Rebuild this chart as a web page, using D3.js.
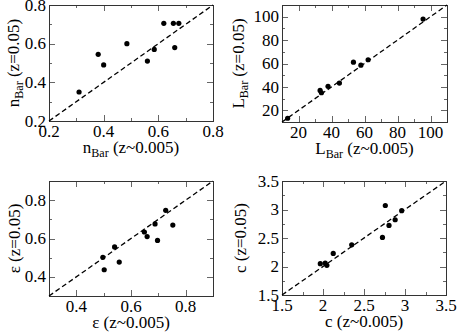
<!DOCTYPE html>
<html>
<head>
<meta charset="utf-8">
<script src="https://cdn.jsdelivr.net/npm/d3@7"></script>
<style>
  body { margin: 0; background: #fff; }
</style>
</head>
<body>
<div id="chart"></div>
<script>
// panel data
const nBarLow  = [0.31, 0.38, 0.40, 0.485, 0.56, 0.585, 0.62, 0.655, 0.675, 0.66];
const nBarHigh = [0.35, 0.545, 0.49, 0.60, 0.51, 0.57, 0.705, 0.705, 0.705, 0.58];

const lBarLow  = [13.4, 33.1, 33.9, 37.9, 44.8, 53.3, 57.8, 62.2, 95.5];
const lBarHigh = [13.2, 37, 35, 40.5, 43.3, 61.1, 58.6, 63.2, 98];

const epsLow  = [0.497, 0.502, 0.54, 0.557, 0.649, 0.659, 0.688, 0.697, 0.727, 0.753];
const epsHigh = [0.502, 0.437, 0.556, 0.477, 0.634, 0.61, 0.676, 0.59, 0.747, 0.67];

const cLow  = [1.967, 2.027, 2.047, 2.125, 2.35, 2.725, 2.76, 2.805, 2.88, 2.96];
const cHigh = [2.05, 2.06, 2.02, 2.23, 2.38, 2.51, 3.07, 2.72, 2.82, 2.98];

const nTicks   = [0.2, 0.4, 0.6, 0.8];
const nMinor   = [0.3, 0.5, 0.7];
const lTicks   = [20, 40, 60, 80, 100];
const lMinor   = [30, 50, 70, 90];
const epsTicks = [0.4, 0.6, 0.8];
const epsMinor = [0.5, 0.7];
const cTicks   = [1.5, 2, 2.5, 3, 3.5];
const cMinor   = [1.75, 2.25, 2.75, 3.25];

const panels = [
  {sym: "n", sub: "Bar", xs: nBarLow, ys: nBarHigh, domain: [0.2, 0.8], ticks: nTicks, minor: nMinor,
   fmt: d3.format(".1f"), box: {x0: 49, x1: 213, y0: 5, y1: 121}, ylabX: 13},
  {sym: "L", sub: "Bar", xs: lBarLow, ys: lBarHigh, domain: [10, 110], ticks: lTicks, minor: lMinor,
   fmt: d3.format("d"), box: {x0: 282, x1: 447, y0: 5, y1: 122}, ylabX: 238},
  {sym: "ε", sub: null, xs: epsLow, ys: epsHigh, domain: [0.3, 0.9], ticks: epsTicks, minor: epsMinor,
   fmt: d3.format(".1f"), box: {x0: 49, x1: 213, y0: 181, y1: 296}, ylabX: 14},
  {sym: "c", sub: null, xs: cLow, ys: cHigh, domain: [1.5, 3.5], ticks: cTicks, minor: cMinor,
   fmt: d3.format(""), box: {x0: 282, x1: 446, y0: 181, y1: 295}, ylabX: 240}
];

const svg = d3.select("#chart").append("svg")
  .attr("width", 458)
  .attr("height", 333)
  .attr("font-family", '"Liberation Serif"');

const fontSize = 17;

function addLabel(sel, p, tail) {
  sel.append("tspan").text(p.sym);
  if (p.sub) {
    sel.append("tspan").attr("font-size", 12).attr("dy", 4).text(p.sub);
    sel.append("tspan").attr("dy", -4).text(" " + tail);
  } else {
    sel.append("tspan").text(" " + tail);
  }
}

panels.forEach(p => {
  const b = p.box;
  const x = d3.scaleLinear().domain(p.domain).range([b.x0, b.x1]);
  const y = d3.scaleLinear().domain(p.domain).range([b.y1, b.y0]);
  const g = svg.append("g");

  // inward ticks on all four sides
  const tickG = g.append("g").attr("stroke", "#666").attr("stroke-width", 1);
  [[p.ticks, 6], [p.minor, 3]].forEach(([vals, len]) => {
    vals.forEach(v => {
      const px = Math.round(x(v)) + 0.5, py = Math.round(y(v)) + 0.5;
      tickG.append("line").attr("x1", px).attr("x2", px).attr("y1", b.y1).attr("y2", b.y1 - len);
      tickG.append("line").attr("x1", px).attr("x2", px).attr("y1", b.y0).attr("y2", b.y0 + len);
      tickG.append("line").attr("y1", py).attr("y2", py).attr("x1", b.x0).attr("x2", b.x0 + len);
      tickG.append("line").attr("y1", py).attr("y2", py).attr("x1", b.x1).attr("x2", b.x1 - len);
    });
  });

  // frame
  g.append("rect")
    .attr("x", b.x0 + 0.5).attr("y", b.y0 + 0.5)
    .attr("width", b.x1 - b.x0).attr("height", b.y1 - b.y0)
    .attr("fill", "none").attr("stroke", "#333").attr("stroke-width", 1);

  // tick labels
  g.selectAll(".xl").data(p.ticks).join("text")
    .attr("x", d => x(d)).attr("y", b.y1 + 16)
    .attr("text-anchor", "middle").attr("font-size", fontSize)
    .text(d => p.fmt(d));
  g.selectAll(".yl").data(p.ticks).join("text")
    .attr("x", b.x0 - 3).attr("y", d => y(d)).attr("dy", "0.33em")
    .attr("text-anchor", "end").attr("font-size", fontSize)
    .text(d => p.fmt(d));

  // y = x reference line
  g.append("line")
    .attr("x1", x(p.domain[0])).attr("y1", y(p.domain[0]))
    .attr("x2", x(p.domain[1])).attr("y2", y(p.domain[1]))
    .attr("stroke", "#000").attr("stroke-width", 1.3)
    .attr("stroke-dasharray", "5,3");

  // points
  g.selectAll("circle").data(p.xs.map((v, i) => [v, p.ys[i]])).join("circle")
    .attr("cx", d => x(d[0])).attr("cy", d => y(d[1]))
    .attr("r", 2.6).attr("fill", "#000");

  // axis titles
  const xt = g.append("text")
    .attr("x", (b.x0 + b.x1) / 2).attr("y", b.y1 + 32)
    .attr("text-anchor", "middle").attr("font-size", fontSize);
  addLabel(xt, p, "(z~0.005)");

  const yt = g.append("text")
    .attr("transform", `translate(${p.ylabX + 6},${(b.y0 + b.y1) / 2}) rotate(-90)`)
    .attr("text-anchor", "middle").attr("font-size", fontSize);
  addLabel(yt, p, "(z=0.05)");
});
</script>
</body>
</html>
